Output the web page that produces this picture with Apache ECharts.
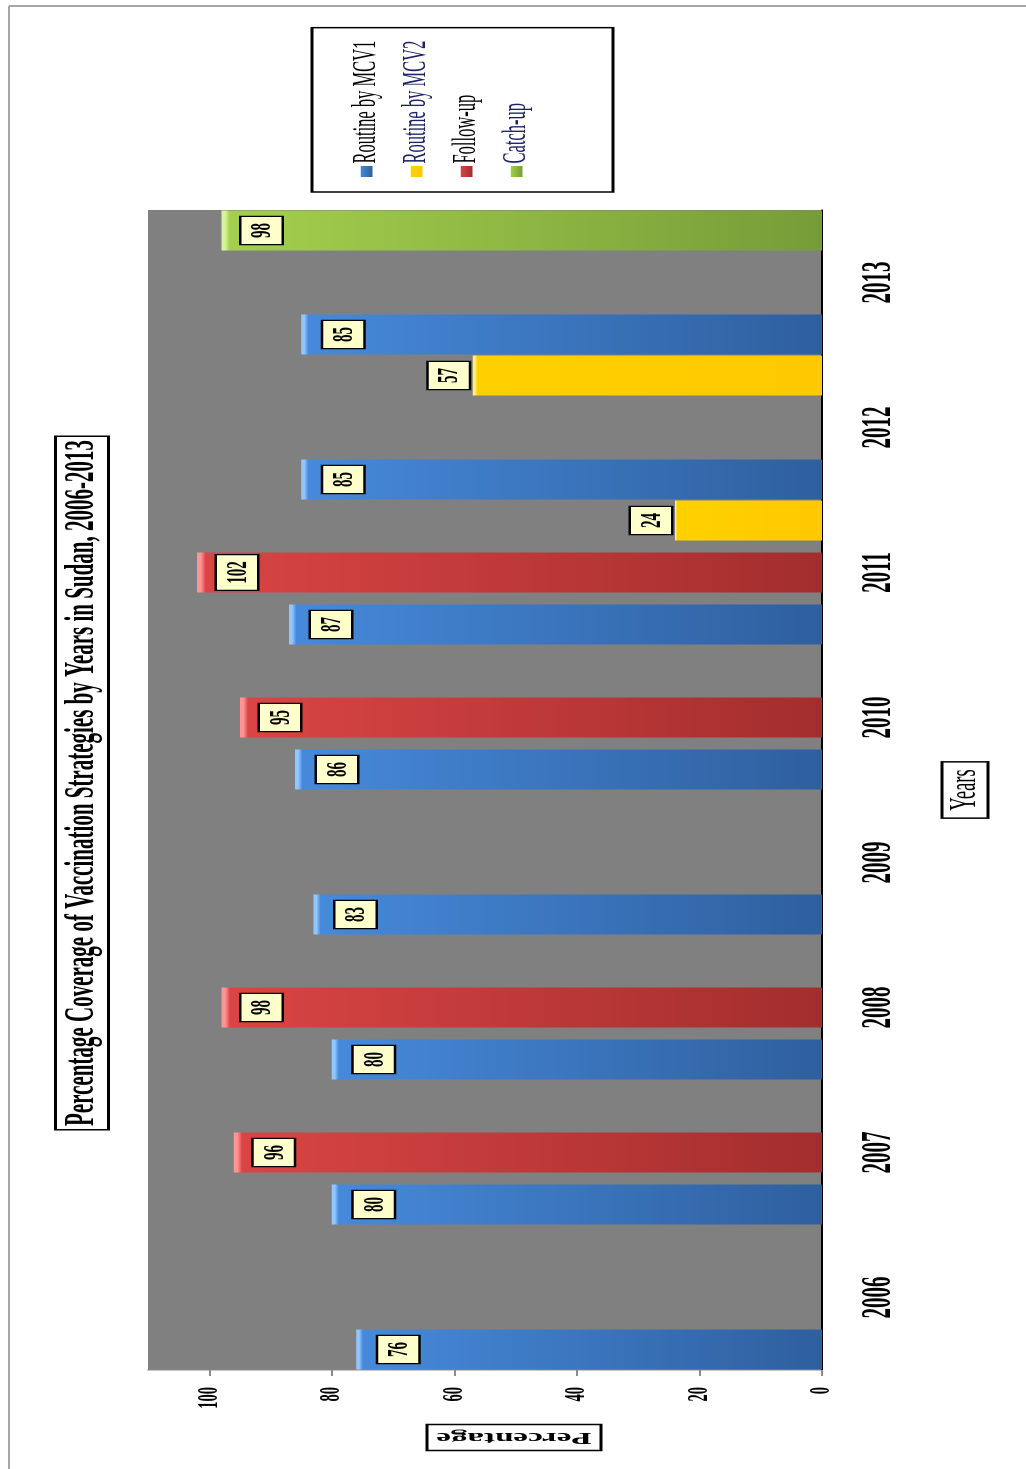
<!DOCTYPE html>
<html>
<head>
<meta charset="utf-8">
<title>Percentage Coverage of Vaccination Strategies by Years in Sudan, 2006-2013</title>
<script src="https://cdn.jsdelivr.net/npm/echarts@6/dist/echarts.min.js"></script>
<style>
  html, body { margin: 0; padding: 0; background: #fff; overflow: hidden; width: 1026px; height: 1469px; }
  /* The column chart is laid out landscape, horizontally condensed, then turned a quarter-turn counter-clockwise */
  #chart {
    position: absolute; left: 0; top: 0;
    width: 2938px; height: 1026px;
    transform-origin: 0 0;
    transform: translate(0px, 1469px) rotate(-90deg) scaleX(0.5);
  }
</style>
</head>
<body>
<div id="chart"></div>
<script>
// ---- data ----
const years = ['2006', '2007', '2008', '2009', '2010', '2011', '2012', '2013'];
const routineMCV1 = [76, 80, 80, 83, 86, 87, 85, 85];
const followUp    = [null, 96, 98, null, 95, 102, null, null];
const routineMCV2 = [null, null, null, null, null, 24, 57, null];
const catchUp     = [null, null, null, null, null, null, null, 98];
const percentTicks = [0, 20, 40, 60, 80, 100];

const SERIF = '"Liberation Serif", "Times New Roman", serif';

// bevelled column fill: bright cap at the tip, fading darker toward the base
function columnFill(cap, main, base) {
  return new echarts.graphic.LinearGradient(0, 0, 0, 1, [
    { offset: 0, color: cap },
    { offset: 0.006, color: cap },
    { offset: 0.014, color: main },
    { offset: 1, color: base }
  ]);
}

function valueBox(position, distance) {
  return {
    show: true,
    position: position,
    distance: distance,
    fontFamily: SERIF,
    fontWeight: 'bold',
    fontSize: 30,
    lineHeight: 32,
    color: '#000',
    backgroundColor: '#ffffcc',
    borderColor: '#000',
    borderWidth: 2.5,
    padding: [5, 12, 3, 12]
  };
}

const chart = echarts.init(document.getElementById('chart'), null, { renderer: 'canvas' });

chart.setOption({
  animation: false,
  backgroundColor: '#ffffff',
  title: {
    text: 'Percentage Coverage of Vaccination Strategies by Years in Sudan, 2006-2013',
    left: 678,
    top: 55,
    padding: [5, 8, 5, 8],
    borderColor: '#000',
    borderWidth: 3,
    textStyle: { fontFamily: SERIF, fontWeight: 'bold', fontSize: 42, lineHeight: 44, color: '#000' }
  },
  legend: {
    orient: 'vertical',
    left: 2554,
    top: 312,
    padding: [38, 26, 80, 30],
    borderColor: '#000',
    borderWidth: 3,
    icon: 'rect',
    itemWidth: 22,
    itemHeight: 12,
    itemGap: 17,
    textStyle: { fontFamily: SERIF, fontSize: 33, lineHeight: 33, color: '#000' },
    data: [
      { name: 'Routine by MCV1' },
      { name: 'Routine by MCV2', textStyle: { color: '#1b2166' } },
      { name: 'Follow-up' },
      { name: 'Catch-up', textStyle: { color: '#1b2166' } }
    ]
  },
  grid: {
    left: 198,
    right: 420,
    top: 148,
    bottom: 204,
    show: true,
    backgroundColor: '#808080',
    borderWidth: 0,
    containLabel: false
  },
  xAxis: {
    type: 'category',
    data: years,
    axisLine: { lineStyle: { color: '#000', width: 2 } },
    axisTick: { show: false },
    axisLabel: { fontFamily: SERIF, fontWeight: 'bold', fontSize: 42, color: '#000', margin: 36 },
    name: 'Years',
    nameLocation: 'middle',
    nameGap: 120,
    nameTextStyle: {
      fontFamily: SERIF, fontSize: 37, lineHeight: 36, color: '#000',
      borderColor: '#000', borderWidth: 3, padding: [5, 15, 5, 15]
    }
  },
  yAxis: {
    type: 'value',
    min: 0,
    max: 110,
    interval: 20,
    splitLine: { show: false },
    axisLine: { show: true, lineStyle: { color: '#8c8c8c', width: 2 } },
    axisTick: { show: true, length: 12, customValues: percentTicks, lineStyle: { color: '#8c8c8c', width: 2 } },
    axisLabel: { customValues: percentTicks, fontFamily: SERIF, fontWeight: 'bold', fontSize: 29, color: '#000', margin: 34 }
  },
  graphic: [
    // page frame
    { type: 'line', shape: { x1: 0, y1: 9, x2: 2926, y2: 9 }, style: { stroke: '#a6a6a6', lineWidth: 2 } },
    { type: 'line', shape: { x1: 2926, y1: 9, x2: 2926, y2: 1026 }, style: { stroke: '#a6a6a6', lineWidth: 4 } },
    // value axis title
    {
      type: 'text',
      x: 63,
      y: 514,
      rotation: Math.PI / 2,
      style: {
        text: 'Percentage',
        font: 'bold 33px "Liberation Serif", serif',
        fill: '#000',
        align: 'center',
        verticalAlign: 'middle',
        backgroundColor: '#fff',
        borderColor: '#000',
        borderWidth: 3,
        padding: [8, 8, 8, 8]
      }
    }
  ],
  series: [
    {
      name: 'Routine by MCV1',
      type: 'bar',
      data: routineMCV1,
      barWidth: 80,
      barGap: '30%',
      itemStyle: { color: columnFill('#93c6ff', '#4689da', '#2e5f9e') },
      label: valueBox('insideTop', 22)
    },
    {
      name: 'Follow-up',
      type: 'bar',
      data: followUp,
      barWidth: 80,
      barGap: '30%',
      itemStyle: { color: columnFill('#ff9494', '#d94444', '#a32d2d') },
      label: valueBox('insideTop', 20)
    },
    {
      name: 'Routine by MCV2',
      type: 'bar',
      stack: 'third',
      data: routineMCV2,
      barWidth: 80,
      barGap: '30%',
      itemStyle: { color: columnFill('#fff27a', '#ffd000', '#ffc800') },
      label: valueBox('top', 4)
    },
    {
      name: 'Catch-up',
      type: 'bar',
      stack: 'third',
      data: catchUp,
      barWidth: 80,
      barGap: '30%',
      itemStyle: { color: columnFill('#d6f59a', '#a3cf4d', '#769c38') },
      label: valueBox('insideTop', 20)
    }
  ]
});
</script>
</body>
</html>
